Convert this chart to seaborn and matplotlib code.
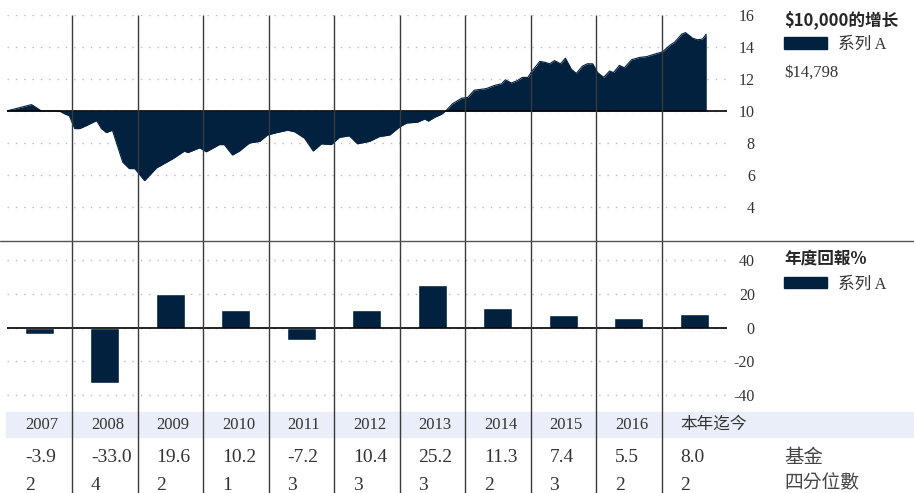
import matplotlib
matplotlib.use("Agg")
import matplotlib.pyplot as plt
from matplotlib.patches import Patch, Rectangle
from matplotlib.lines import Line2D
import numpy as np
import seaborn as sns

# data
years = ["2007", "2008", "2009", "2010", "2011", "2012", "2013", "2014", "2015", "2016", "本年迄今"]
annual_returns = [-3.9, -33.0, 19.6, 10.2, -7.2, 10.4, 25.2, 11.3, 7.4, 5.5, 8.0]
quartiles = [2, 4, 2, 1, 3, 3, 3, 2, 3, 2, 2]

# growth of 10,000 (in thousands), months since Jan 2007
growth_months = [0, 4.6, 6.4, 9.7, 10.6, 11.5, 12.5, 13.4, 14.7, 16.5, 17.4, 18.3, 19.4,
                 21.3, 22.5, 23.5, 25.3, 27.5, 30.4, 32.6, 33.2, 35.4, 36.6, 39.0, 39.9,
                 41.4, 42.7, 44.5, 46.4, 47.8, 49.5, 51.5, 52.8, 54.6, 56.2, 57.7, 59.5,
                 61.0, 62.8, 64.3, 66.5, 68.3, 70.2, 72.0, 73.3, 75.3, 76.6, 77.3, 78.4,
                 79.7, 80.6, 81.7, 83.4, 84.5, 85.7, 87.9, 89.4, 90.7, 91.4, 92.5, 93.6,
                 94.5, 95.5, 96.4, 97.7, 98.6, 99.5, 100.4, 101.5, 102.4, 103.5, 104.4,
                 105.5, 106.4, 107.4, 108.3, 109.4, 110.5, 111.2, 112.3, 113.2, 114.5,
                 116.0, 117.3, 118.7, 120.2, 121.5, 122.4, 123.7, 124.4, 125.7, 126.6,
                 127.5, 128.2]
growth_values = [10.0, 10.4, 10.0, 10.0, 9.83, 9.7, 8.9, 8.9, 9.1, 9.4, 8.9, 8.65, 8.8,
                 6.8, 6.4, 6.4, 5.65, 6.45, 7.0, 7.5, 7.4, 7.7, 7.45, 7.9, 7.9,
                 7.25, 7.5, 8.0, 8.1, 8.5, 8.65, 8.8, 8.7, 8.3, 7.5, 7.95, 7.9,
                 8.35, 8.45, 7.95, 8.1, 8.4, 8.5, 9.0, 9.25, 9.3, 9.5, 9.37, 9.6,
                 9.8, 10.05, 10.45, 10.8, 10.85, 11.3, 11.4, 11.6, 11.7, 11.95, 11.75, 11.9,
                 12.1, 12.1, 12.55, 13.1, 13.05, 12.95, 13.15, 12.95, 13.3, 12.6, 12.35,
                 12.8, 12.95, 12.95, 12.4, 12.1, 12.5, 12.4, 12.85, 12.7, 13.2,
                 13.35, 13.4, 13.55, 13.7, 14.1, 14.3, 14.8, 14.9, 14.55, 14.45,
                 14.5, 14.8]
final_value = "$14,798"

navy = "#01213f"
text_col = "#333333"
W, H = 914, 493

sns.set_style("white")
plt.rcParams["font.family"] = ["Liberation Serif", "Noto Sans CJK SC"]
plt.rcParams["axes.unicode_minus"] = False
bold_cjk = {"family": "Noto Sans CJK SC", "weight": "bold", "size": 12}
serif_prop = {"family": ["Liberation Serif", "Noto Sans CJK SC"], "size": 12}

fig = plt.figure(figsize=(W / 100, H / 100), dpi=100)

left, right = 6.5 / W, 727 / W
ax_top = fig.add_axes([left, 1 - 239 / H, right - left, (239 - 15) / H])
ax_bot = fig.add_axes([left, 1 - 412 / H, right - left, (412 - 243) / H])


def style_axis(ax, ticks, base):
    ax.set_xlim(-0.5, 10.5)
    ax.set_xticks([])
    ax.set_xlabel("")
    ax.set_ylabel("")
    ax.set_yticks(ticks)
    ax.yaxis.grid(True, linestyle=(0, (1, 5)), color="#bbbbbb", lw=1)
    ax.set_axisbelow(True)
    for s in ax.spines.values():
        s.set_visible(False)
    ax.tick_params(axis="y", left=False, labelleft=False, right=True, labelright=True,
                   length=0, pad=20, labelsize=11.5, labelcolor=text_col)
    for lab in ax.get_yticklabels():
        lab.set_horizontalalignment("right")
    ax.axhline(base, color="black", lw=1.2, zorder=3)
    ax.patch.set_alpha(0)


# growth area
xs = np.array(growth_months) / 12 - 0.5
sns.lineplot(x=xs, y=growth_values, ax=ax_top, color=navy, lw=0.8)
ax_top.fill_between(xs, growth_values, 10, color=navy, lw=0)
ax_top.set_ylim(2, 16)
style_axis(ax_top, [4, 6, 8, 10, 12, 14, 16], 10)

# annual returns
sns.barplot(x=years, y=annual_returns, ax=ax_bot, color=navy, width=0.44, saturation=1)
ax_bot.set_ylim(-50, 50)
style_axis(ax_bot, [-40, -20, 0, 20, 40], 0)

# legends
ax_top.legend(handles=[Patch(color=navy)], labels=["系列 A"], title="$10,000的增长",
              loc="upper left", bbox_to_anchor=(784 / W, 1 - 10 / H),
              bbox_transform=fig.transFigure, frameon=False, borderpad=0,
              borderaxespad=0, handlelength=2.55, handleheight=0.72, handletextpad=0.7,
              prop=serif_prop, title_fontproperties=bold_cjk, alignment="left",
              labelcolor=text_col)
ax_bot.legend(handles=[Patch(color=navy)], labels=["系列 A"], title="年度回報%",
              loc="upper left", bbox_to_anchor=(784 / W, 1 - 250 / H),
              bbox_transform=fig.transFigure, frameon=False, borderpad=0,
              borderaxespad=0, handlelength=2.55, handleheight=0.72, handletextpad=0.7,
              prop=serif_prop, title_fontproperties=bold_cjk, alignment="left",
              labelcolor=text_col)
fig.text(784 / W, 1 - 73 / H, final_value, fontsize=12, color=text_col, va="center")

# separator and table band
fig.add_artist(Line2D([0, 1], [1 - 241 / H, 1 - 241 / H], color="#555555", lw=1))
fig.add_artist(Rectangle((6 / W, 1 - 437 / H), (914 - 6) / W, 25 / H,
                         transform=fig.transFigure, color="#e9eef8", zorder=-1))

# overlay for column dividers and table text
ax_tab = fig.add_axes([left, 0, right - left, 1])
ax_tab.set_xlim(-0.5, 10.5)
ax_tab.set_ylim(H, 0)
ax_tab.axis("off")
ax_tab.vlines(np.arange(10) + 0.5, 15, H, color="#3a3a3a", lw=1)
for i, yr in enumerate(years):
    x0 = i - 0.5 + 0.29
    ax_tab.text(x0, 425, yr, ha="left", va="center", fontsize=12, color=text_col)
    ax_tab.text(x0, 458, f"{annual_returns[i]:.1f}", ha="left", va="center",
                fontsize=14, color=text_col)
    ax_tab.text(x0, 485, str(quartiles[i]), ha="left", va="center",
                fontsize=14, color=text_col)

fig.text(784 / W, 1 - 457 / H, "基金", fontsize=14, color="#444444", va="center",
         family="Noto Sans CJK TC")
fig.text(784 / W, 1 - 483 / H, "四分位數", fontsize=13.5, color="#444444", va="center",
         family="Noto Sans CJK TC")

fig.savefig("out.png", dpi=100)
